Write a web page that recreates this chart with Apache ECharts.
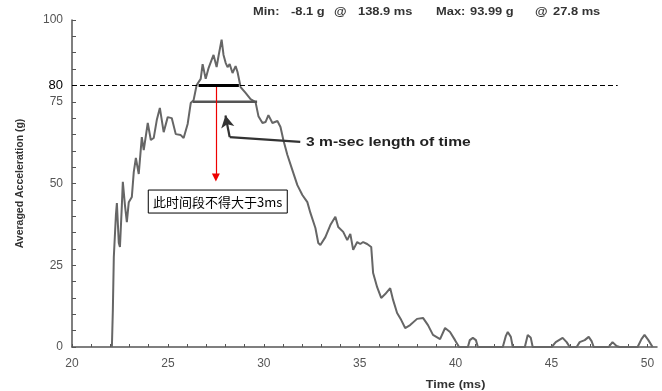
<!DOCTYPE html>
<html><head><meta charset="utf-8">
<script src="https://cdn.jsdelivr.net/npm/echarts@6/dist/echarts.min.js"></script>
<style>html,body{margin:0;padding:0;background:#fff}#c{width:662px;height:391px}</style>
</head><body><div id="c"></div>
<script>
// ---- data ----
const timeMs = [22.08,22.13,22.18,22.29,22.34,22.44,22.50,22.60,22.65,22.76,
  22.86,22.96,23.12,23.22,23.33,23.48,23.64,23.74,23.95,24.11,
  24.26,24.42,24.58,24.78,24.99,25.20,25.41,25.67,25.82,26.03,
  26.19,26.34,26.50,26.71,26.81,26.97,27.12,27.28,27.38,27.54,
  27.64,27.80,27.90,28.01,28.11,28.22,28.37,28.53,28.63,28.79,
  29.05,29.31,29.57,29.72,29.93,30.09,30.24,30.45,30.71,30.87,
  31.02,31.23,31.49,31.75,32.01,32.27,32.43,32.69,32.84,32.95,
  33.21,33.47,33.73,33.88,34.14,34.35,34.51,34.66,34.87,35.03,
  35.18,35.39,35.60,35.70,35.91,36.12,36.33,36.59,36.74,36.95,
  37.16,37.37,37.63,37.99,38.30,38.56,38.82,39.19,39.45,39.71,
  39.97,40.18,
  40.64,40.74,40.90,41.06,41.16,
  41.79,41.89,41.99,
  42.46,42.62,42.72,42.88,42.98,
  43.61,43.76,43.92,44.02,
  45.01,45.22,45.58,45.79,45.95,
  46.31,46.47,46.73,46.94,47.09,47.20,
  47.98,48.18,48.39,48.55,
  49.49,49.69,49.85,50.05,50.27];
const accelG = [0,11.3,27.5,40.4,44.0,31.8,30.6,43.4,50.5,43.4,
  38.2,44.3,45.9,53.5,57.8,52.9,64.2,60.2,68.5,63.3,
  63.9,69.4,73.1,65.7,70.3,70.0,65.1,64.8,63.9,68.2,
  74.6,75.5,80.1,82.0,86.5,82.0,85.3,87.8,89.3,85.6,
  89.0,93.99,89.3,86.9,85.6,86.5,83.8,85.9,84.1,79.5,
  77.7,75.8,74.9,70.6,68.5,68.8,70.9,68.5,69.1,67.3,
  63.3,58.7,54.1,49.5,46.5,44.3,41.0,36.4,31.8,31.2,
  33.6,37.3,39.8,36.7,35.2,32.7,34.6,29.7,32.1,31.5,
  32.1,31.5,30.6,22.6,18.3,15.0,16.2,18.0,14.4,10.4,
  8.3,5.8,6.7,8.6,8.9,6.7,3.7,2.4,5.8,4.6,
  2.1,0,
  0,2.1,2.8,2.1,0,
  0,0.6,0,
  0,3.4,4.6,3.1,0,
  0,3.7,2.8,0,
  0,1.5,2.8,1.5,0,
  0,1.5,2.1,3.1,1.8,0,
  0,1.5,0.3,0,
  0,2.4,3.7,2.1,0];
const xTickLabels = [20,25,30,35,40,45,50];
const yTickLabels = [0,25,50,75,100];
const thresholdG = 80;
const thresholdEndMs = 48.45;
const bar80Ms = [26.6, 28.7];
const bar75Ms = [26.3, 29.65];
const redArrowMs = 27.5, redArrowFromG = 80, redArrowToG = 51.8;
const pointerPts = [[31.9,62.7],[28.22,64.2],[28.0,70.8]];
const pointerText = '3 m-sec length of time';
const boxText = '此时间段不得大于3ms';
const headerParts = [['Min:',253],['-8.1 g',291],['@',334],['138.9 ms',358],['Max:',436],['93.99 g',470],['@',535],['27.8 ms',553]];

const xMinorTicks = []; for (let v = 20; v <= 50; v++) xMinorTicks.push(v);
const yMinorTicks = []; for (let v = 0; v <= 100; v += 5) yMinorTicks.push(v);

const FONT = 'Liberation Sans, Arial, sans-serif';
const chart = echarts.init(document.getElementById('c'), null, {renderer:'canvas'});
const axisColor = '#555';
chart.setOption({
  animation:false,
  backgroundColor:'#fff',
  grid:{left:72, right:5, top:20, bottom:44},
  xAxis:{type:'value', min:20, max:50.5,
    axisLine:{lineStyle:{color:axisColor, width:1.5}},
    axisTick:{inside:true, length:3, customValues:xMinorTicks, lineStyle:{color:axisColor}},
    axisLabel:{customValues:xTickLabels, color:'#555', fontSize:12, fontFamily:FONT, margin:11},
    splitLine:{show:false}},
  yAxis:{type:'value', min:0, max:100, interval:25,
    name:'Averaged Acceleration (g)', nameLocation:'middle', nameGap:46,
    nameTextStyle:{color:'#333', fontSize:10.5, fontWeight:'bold', fontFamily:FONT},
    axisLine:{show:true, lineStyle:{color:axisColor, width:1.5}},
    axisTick:{show:true, inside:true, length:4, customValues:yMinorTicks, lineStyle:{color:axisColor}},
    axisLabel:{customValues:yTickLabels, color:'#555', fontSize:12, fontFamily:FONT, margin:9},
    splitLine:{show:false}},
  series:[
    {type:'line', data:timeMs.map((t,i)=>[t,accelG[i]]), showSymbol:false, symbol:'none',
     lineStyle:{color:'#666', width:2}, z:3,
     markLine:{silent:true, symbol:'none', animation:false,
       lineStyle:{type:[5,3], color:'#000', width:1.2},
       label:{show:true, position:'start', formatter:String(thresholdG), color:'#000', fontSize:13, fontFamily:FONT, distance:9},
       data:[[{coord:[20,thresholdG]},{coord:[thresholdEndMs,thresholdG]}]]}},
    {type:'line', data:[[bar75Ms[0],75],[bar75Ms[1],75]], symbol:'none', lineStyle:{color:'#555', width:2.5}, z:4},
    {type:'line', data:[[bar80Ms[0],thresholdG],[bar80Ms[1],thresholdG]], symbol:'none', lineStyle:{color:'#000', width:3}, z:5},
    {type:'line', data:[pointerPts[0],pointerPts[1]], symbol:'none', lineStyle:{color:'#333', width:2.2}, z:5,
     markLine:{silent:true, animation:false, symbol:['none','arrow'], symbolSize:[10,12],
       lineStyle:{type:'solid', color:'#333', width:2.2}, label:{show:false},
       data:[[{coord:pointerPts[1]},{coord:pointerPts[2]}]]}},
    {type:'line', data:[], z:6,
     markLine:{silent:true, animation:false, symbol:['none','triangle'], symbolSize:[8,8],
       lineStyle:{type:'solid', color:'#e00', width:1.2}, itemStyle:{color:'#e00'}, label:{show:false},
       data:[[{coord:[redArrowMs,redArrowFromG]},{coord:[redArrowMs,redArrowToG]}]]}}
  ]
});

function px(p){ return chart.convertToPixel({gridIndex:0}, p); }
const gfx = [];
headerParts.forEach(([t,x])=>gfx.push({type:'text', x:x, y:12, scaleX:1.12, style:{text:t, fill:'#333', font:'bold 11.5px '+FONT, verticalAlign:'middle'}}));
const pt = px([32.2,62.7]);
gfx.push({type:'text', x:pt[0], y:pt[1], scaleX:1.2, style:{text:pointerText, fill:'#222', font:'bold 13px '+FONT, align:'left', verticalAlign:'middle'}});
const bc = px([27.6,48]);
gfx.push({type:'rect', shape:{x:bc[0]-69.5, y:bc[1], width:139, height:23}, style:{fill:'#fff', stroke:'#000', lineWidth:1}, z:10});
gfx.push({type:'text', x:bc[0], y:bc[1]+12, style:{text:boxText, fill:'#000', font:'13px "Noto Sans CJK SC"', align:'center', verticalAlign:'middle'}, z:11});
const xn = px([40,0]);
gfx.push({type:'text', x:xn[0], y:385, scaleX:1.15, style:{text:'Time (ms)', fill:'#333', font:'bold 11px '+FONT, align:'center', verticalAlign:'middle'}});
chart.setOption({graphic:gfx});
</script></body></html>
